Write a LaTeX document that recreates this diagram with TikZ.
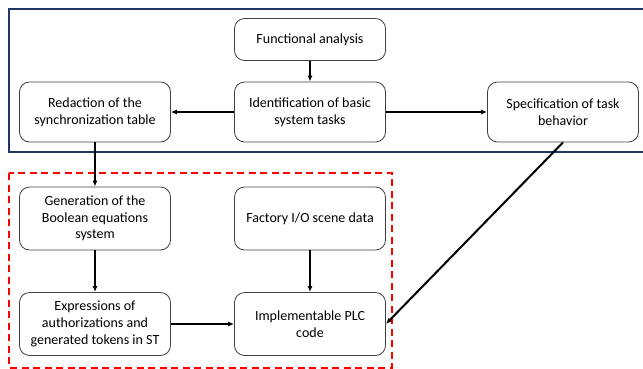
\documentclass[tikz,border=0pt]{standalone}
\usepackage{fontspec}
\setmainfont{Carlito}
\usetikzlibrary{arrows.meta}

\definecolor{cadrebleu}{HTML}{1F3864}

\tikzset{
	etape/.style={draw=black!75, line width=0.8pt, rounded corners=10pt, align=center,
		minimum width=151pt, inner sep=2pt, font=\fontsize{14}{16.7}\selectfont},
	fleche/.style={-{Latex[length=6pt,width=5pt]}, line width=2pt}
}

\begin{document}
\begin{tikzpicture}[x=1pt,y=-1pt]
					\useasboundingbox (0,0) rectangle (643,368);
					%CADRE BLEU
					\begin{scope}
					\clip (0,0) rectangle (643,368);
					\draw[cadrebleu, line width=2pt] (650,9) -- (9,9) -- (9,152) -- (650,152);
					%CADRE ROUGE
					\draw[red, line width=2pt, dash pattern=on 7pt off 4.5pt] (9,173) rectangle (392,367.5);
					\end{scope}

					%ETAPES
					\node[etape, minimum height=42pt] (func) at (310,39.5) {Functional analysis};
					\node[etape, minimum height=60pt] (ident) at (310,112) {Identification of basic\\system tasks};
					\node[etape, minimum height=60pt] (redac) at (95,112) {Redaction of the\\synchronization table};
					\node[etape, minimum height=60pt] (spec) at (563,112) {Specification of task\\behavior};
					\node[etape, minimum height=63pt] (gen) at (95,218.5) {Generation of the\\Boolean equations\\system};
					\node[etape, minimum height=63pt] (fact) at (310,218.5) {Factory I/O scene data};
					\node[etape, minimum height=63pt] (expr) at (95,324) {Expressions of\\authorizations and\\generated tokens in ST};
					\node[etape, minimum height=63pt] (impl) at (310,324) {Implementable PLC\\code};

					%FLECHES
					\draw[fleche] (func) -- (ident);
					\draw[fleche] (ident) -- (redac);
					\draw[fleche] (ident) -- (spec);
					\draw[fleche] (redac) -- (gen);
					\draw[fleche] (gen) -- (expr);
					\draw[fleche] (fact) -- (impl);
					\draw[fleche] (expr) -- (impl);
					\draw[fleche] (spec.south) -- (impl.east);

				  \end{tikzpicture}
\end{document}
